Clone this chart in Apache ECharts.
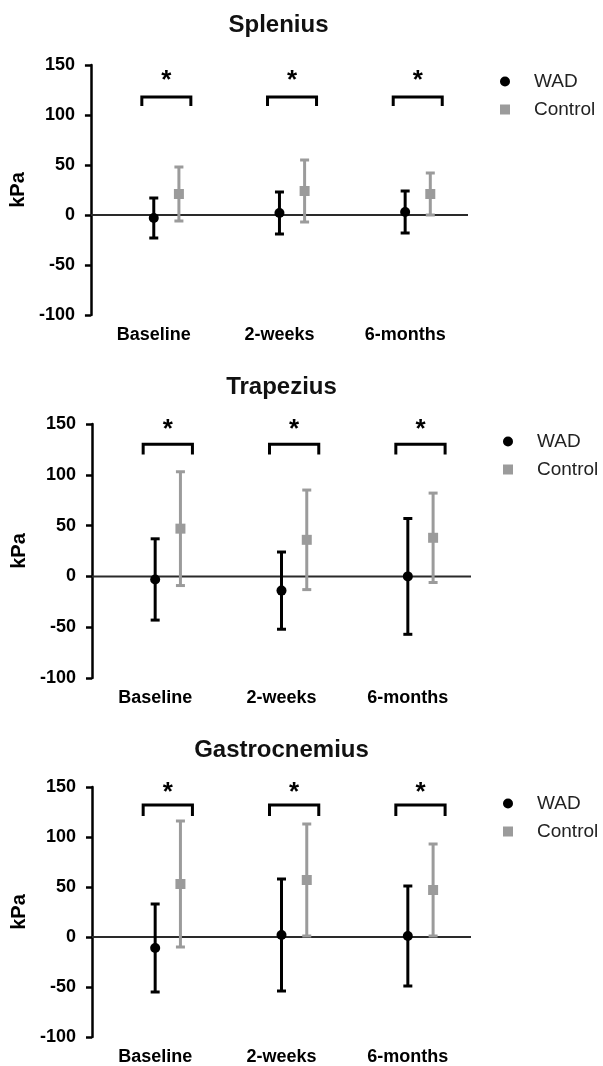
<!DOCTYPE html>
<html>
<head>
<meta charset="utf-8">
<script src="https://cdn.jsdelivr.net/npm/echarts@6/dist/echarts.min.js"></script>
<style>
  html, body { margin: 0; padding: 0; background: #fff; }
  #chart { width: 603px; height: 1066px; }
</style>
</head>
<body>
<div id="chart"></div>
<script>
// Shear-wave elastography stiffness (kPa), mean ± SD per time point
const categories = ['Baseline', '2-weeks', '6-months'];
const yTicks = [-100, -50, 0, 50, 100, 150];

const spleniusWadMean = [-3, 2, 3];
const spleniusWadSd = [20, 21, 21];
const spleniusControlMean = [21, 24, 21];
const spleniusControlSd = [27, 31, 21];

const trapeziusWadMean = [-3, -14, 0];
const trapeziusWadSd = [40, 38, 57];
const trapeziusControlMean = [47, 36, 38];
const trapeziusControlSd = [56, 49, 44];

const gastrocWadMean = [-11, 2, 1];
const gastrocWadSd = [44, 56, 50];
const gastrocControlMean = [53, 57, 47];
const gastrocControlSd = [63, 56, 46];

// Significant group difference at every time point
const significant = [true, true, true];

const FONT = '"Liberation Sans", Arial, Helvetica, sans-serif';

const panels = [
  { title: 'Splenius', wadMean: spleniusWadMean, wadSd: spleniusWadSd,
    ctlMean: spleniusControlMean, ctlSd: spleniusControlSd,
    grid: { left: 89, top: 65, width: 379, height: 250 },
    titleTop: 13, legend: { left: 500, top: 72 },
    bracket: { leg: 109, top: 118, star: 134 } },
  { title: 'Trapezius', wadMean: trapeziusWadMean, wadSd: trapeziusWadSd,
    ctlMean: trapeziusControlMean, ctlSd: trapeziusControlSd,
    grid: { left: 92, top: 424, width: 379, height: 254 },
    titleTop: 375, legend: { left: 503, top: 432 },
    bracket: { leg: 120, top: 130, star: 144 } },
  { title: 'Gastrocnemius', wadMean: gastrocWadMean, wadSd: gastrocWadSd,
    ctlMean: gastrocControlMean, ctlSd: gastrocControlSd,
    grid: { left: 92, top: 787, width: 379, height: 251 },
    titleTop: 738, legend: { left: 503, top: 794 },
    bracket: { leg: 121, top: 132, star: 144 } }
];

const WAD_COLOR = '#000000';
const CONTROL_COLOR = '#9b9b9b';

// Error bar with caps and a mean marker, shifted sideways by a fraction of the band
function errorBarItem(offsetFrac, color, shape) {
  return function (params, api) {
    const i = api.value(0);
    const mean = api.value(1);
    const sd = api.value(2);
    const bw = api.size([1, 0])[0];
    const pm = api.coord([i, mean]);
    const x = pm[0] + offsetFrac * bw;
    const yHi = api.coord([i, mean + sd])[1];
    const yLo = api.coord([i, mean - sd])[1];
    const cap = 4.5;
    const lw = 3;
    const marker = shape === 'circle'
      ? { type: 'circle', shape: { cx: x, cy: pm[1], r: 5 }, style: { fill: color } }
      : { type: 'rect', shape: { x: x - 5, y: pm[1] - 5, width: 10, height: 10 }, style: { fill: color } };
    return {
      type: 'group',
      children: [
        { type: 'line', shape: { x1: x, y1: yHi, x2: x, y2: yLo }, style: { stroke: color, lineWidth: lw } },
        { type: 'line', shape: { x1: x - cap, y1: yHi, x2: x + cap, y2: yHi }, style: { stroke: color, lineWidth: lw } },
        { type: 'line', shape: { x1: x - cap, y1: yLo, x2: x + cap, y2: yLo }, style: { stroke: color, lineWidth: lw } },
        marker
      ]
    };
  };
}

const option = {
  backgroundColor: '#ffffff',
  animation: false,
  title: [], legend: [], grid: [], xAxis: [], yAxis: [], series: []
};

panels.forEach(function (p, k) {
  option.grid.push(Object.assign({ containLabel: false }, p.grid));

  option.title.push({
    text: p.title,
    left: p.grid.left + p.grid.width / 2,
    top: p.titleTop,
    textAlign: 'center',
    padding: 0,
    textStyle: { fontFamily: FONT, fontSize: 24, fontWeight: 'bold', color: '#111' }
  });

  option.legend.push({
    orient: 'vertical',
    left: p.legend.left,
    top: p.legend.top,
    padding: 0,
    itemWidth: 10,
    itemHeight: 10,
    itemGap: 9,
    selectedMode: false,
    data: [{ name: 'WAD', icon: 'circle' }, { name: 'Control', icon: 'rect' }],
    textStyle: { fontFamily: FONT, fontSize: 19, color: '#222', padding: [0, 0, 0, 19] }
  });

  option.xAxis.push({
    type: 'category',
    gridIndex: k,
    data: categories,
    axisLine: { show: false },
    axisTick: { show: false },
    splitLine: { show: false },
    axisLabel: { fontFamily: FONT, fontSize: 18, fontWeight: 'bold', color: '#000', margin: 11 }
  });

  option.yAxis.push({
    type: 'value',
    gridIndex: k,
    min: yTicks[0],
    max: yTicks[yTicks.length - 1],
    interval: 50,
    name: 'kPa',
    nameLocation: 'middle',
    nameGap: 56,
    nameTextStyle: { fontFamily: FONT, fontSize: 20, fontWeight: 'bold', color: '#000' },
    axisLine: { show: true, lineStyle: { color: '#000', width: 2.5 } },
    axisTick: { show: true, length: 6, lineStyle: { color: '#000', width: 2.5 } },
    splitLine: { show: false },
    axisLabel: { fontFamily: FONT, fontSize: 18, fontWeight: 'bold', color: '#000', margin: 16 }
  });

  // zero reference line across the plot
  option.series.push({
    type: 'custom',
    xAxisIndex: k, yAxisIndex: k,
    silent: true, z: 1,
    data: [[0, 0]],
    renderItem: function (params, api) {
      const cs = params.coordSys;
      const y = api.coord([0, 0])[1];
      return { type: 'line', shape: { x1: cs.x, y1: y, x2: cs.x + cs.width, y2: y },
               style: { stroke: '#2a2a2a', lineWidth: 2 } };
    }
  });

  option.series.push({
    type: 'custom', name: 'Control',
    xAxisIndex: k, yAxisIndex: k, z: 3,
    itemStyle: { color: CONTROL_COLOR },
    encode: { x: 0, y: 1 },
    data: categories.map(function (c, i) { return [i, p.ctlMean[i], p.ctlSd[i]]; }),
    renderItem: errorBarItem(0.2, CONTROL_COLOR, 'rect')
  });

  option.series.push({
    type: 'custom', name: 'WAD',
    xAxisIndex: k, yAxisIndex: k, z: 4,
    itemStyle: { color: WAD_COLOR },
    encode: { x: 0, y: 1 },
    data: categories.map(function (c, i) { return [i, p.wadMean[i], p.wadSd[i]]; }),
    renderItem: errorBarItem(0, WAD_COLOR, 'circle')
  });

  // significance brackets with asterisks
  const b = p.bracket;
  option.series.push({
    type: 'custom',
    xAxisIndex: k, yAxisIndex: k, z: 5, silent: true,
    data: categories.map(function (c, i) { return [i, b.top]; }).filter(function (d) { return significant[d[0]]; }),
    renderItem: function (params, api) {
      const i = api.value(0);
      const bw = api.size([1, 0])[0];
      const cx = api.coord([i, 0])[0] + 0.1 * bw;
      const half = 0.195 * bw;
      const yTop = api.coord([i, b.top])[1];
      const yLeg = api.coord([i, b.leg])[1];
      const yStar = api.coord([i, b.star])[1];
      return {
        type: 'group',
        children: [
          { type: 'polyline',
            shape: { points: [[cx - half, yLeg], [cx - half, yTop], [cx + half, yTop], [cx + half, yLeg]] },
            style: { stroke: '#000', lineWidth: 3, fill: null, lineJoin: 'miter' } },
          { type: 'text',
            style: { text: '*', x: cx, y: yStar, align: 'center', verticalAlign: 'middle',
                     font: 'bold 26px ' + FONT, fill: '#000' } }
        ]
      };
    }
  });
});

const chart = echarts.init(document.getElementById('chart'), null, { renderer: 'canvas' });
chart.setOption(option);
</script>
</body>
</html>
